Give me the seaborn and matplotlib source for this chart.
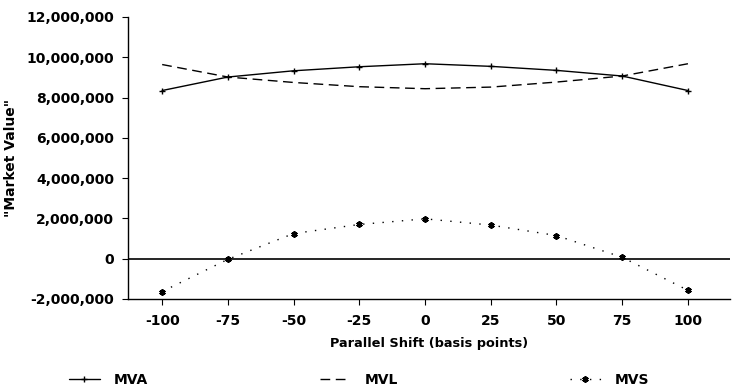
import matplotlib
matplotlib.use("Agg")
import matplotlib.pyplot as plt
from matplotlib.ticker import FuncFormatter
import seaborn as sns
import pandas as pd

# Parallel shift scenarios (basis points) and market values
shift = [-100, -75, -50, -25, 0, 25, 50, 75, 100]
mva = [8_350_000, 9_020_000, 9_330_000, 9_530_000, 9_680_000,
       9_550_000, 9_350_000, 9_070_000, 8_350_000]
mvl = [9_640_000, 9_020_000, 8_750_000, 8_540_000, 8_440_000,
       8_520_000, 8_770_000, 9_070_000, 9_680_000]
mvs = [-1_630_000, -30_000, 1_250_000, 1_700_000, 1_980_000,
       1_670_000, 1_150_000, 70_000, -1_570_000]

y_ticks = [-2_000_000, 0, 2_000_000, 4_000_000, 6_000_000,
           8_000_000, 10_000_000, 12_000_000]
x_ticks = shift

sns.set_style("ticks")
plt.rcParams["font.family"] = ["DejaVu Sans"]
plt.rcParams["font.weight"] = "bold"
plt.rcParams["text.color"] = "black"
plt.rcParams["axes.labelcolor"] = "black"

df = pd.DataFrame({"shift": shift, "MVA": mva, "MVL": mvl, "MVS": mvs})

fig = plt.figure(figsize=(7.33, 3.88), dpi=100)
ax = fig.add_axes([128 / 733, 1 - 299 / 388, (730 - 128) / 733, (299 - 17) / 388])

sns.lineplot(data=df, x="shift", y="MVA", ax=ax, color="black", lw=1.0,
             marker="+", markersize=5, markeredgewidth=1.0,
             markeredgecolor="black", label="MVA")
sns.lineplot(data=df, x="shift", y="MVL", ax=ax, color="black", lw=1.0,
             linestyle=(0, (7, 4)), label="MVL")
sns.lineplot(data=df, x="shift", y="MVS", ax=ax, color="black", lw=1.0,
             linestyle=(0, (1, 6)), marker=(6, 2, 0), markersize=4.5,
             markeredgewidth=1.4, markeredgecolor="black", label="MVS")

# zero reference line
ax.axhline(0, color="black", lw=1.2, zorder=1)

ax.set_xlim(-113, 116)
ax.set_ylim(-2_000_000, 12_000_000)
ax.set_xticks(x_ticks)
ax.set_xticklabels([str(v) for v in x_ticks])
ax.set_yticks(y_ticks)
ax.yaxis.set_major_formatter(FuncFormatter(lambda v, p: f"{int(v):,}"))

for s in ["top", "right"]:
    ax.spines[s].set_visible(False)
for s in ["left", "bottom"]:
    ax.spines[s].set_color("black")
    ax.spines[s].set_linewidth(1.0)

ax.tick_params(axis="both", direction="out", length=4, width=0.8,
               color="black", labelsize=10, labelcolor="black")
ax.tick_params(axis="x", pad=7)
ax.tick_params(axis="y", pad=6)

ax.set_xlabel("Parallel Shift (basis points)", fontsize=9.3,
              fontweight="bold", labelpad=6, color="black")
ax.set_ylabel("\"Market Value\"", fontsize=10, fontweight="bold",
              labelpad=6, color="black")

ax.get_legend().remove()
handles, labels = ax.get_legend_handles_labels()
fig.legend(handles, labels, loc="center left",
           bbox_to_anchor=(69 / 733, 1 - 380 / 388), ncol=3, frameon=False,
           borderpad=0, borderaxespad=0, handlelength=2.2, handletextpad=1.0,
           columnspacing=12.4, labelcolor="black",
           prop={"size": 10, "weight": "bold"})

fig.savefig("out.png", dpi=100)
